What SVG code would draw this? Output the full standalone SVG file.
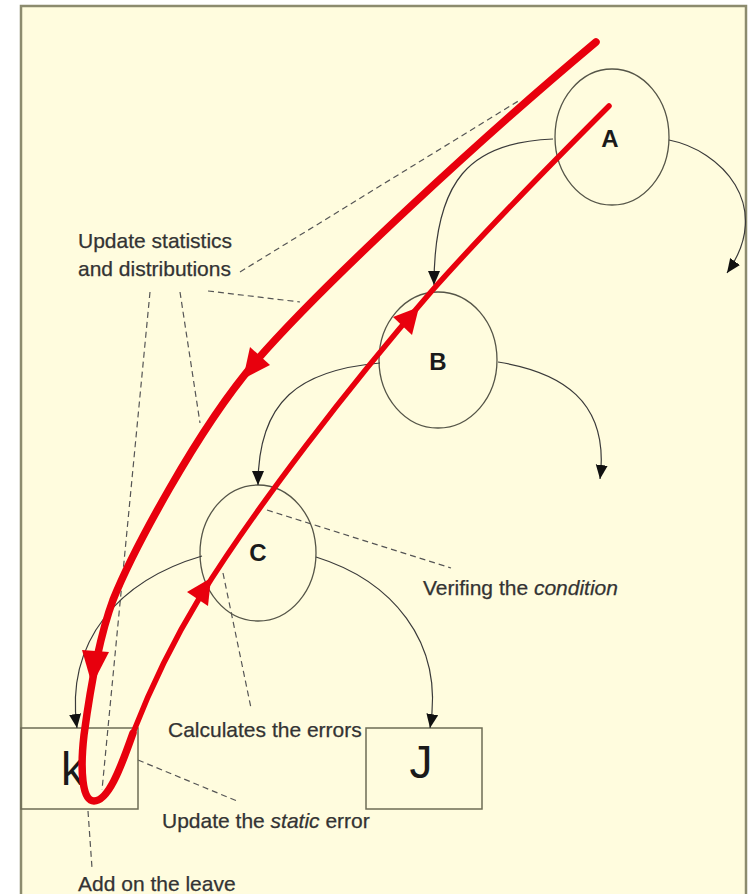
<svg xmlns="http://www.w3.org/2000/svg" width="752" height="894" viewBox="0 0 752 894">
  <defs>
    <style>
      .frame { fill: #FFFCDE; stroke: #8C8B6E; stroke-width: 2.5; }
      .node { fill: none; stroke: #555548; stroke-width: 1.3; }
      .leaf { fill: none; stroke: #6E6C55; stroke-width: 1.5; }
      .node-label { font-family: "Liberation Sans", Arial, sans-serif; font-weight: bold; font-size: 24px; fill: #1a1a1a; text-anchor: middle; }
      .leaf-label { font-family: "Liberation Sans", Arial, sans-serif; font-size: 46px; fill: #1a1a1a; }
      .edge { fill: none; stroke: #3a3a3a; stroke-width: 1.2; marker-end: url(#ah); }
      .lead { fill: none; stroke: #555; stroke-width: 1.2; stroke-dasharray: 6 4; }
      .note { font-family: "Liberation Sans", Arial, sans-serif; font-size: 21px; fill: #333; stroke: #333; stroke-width: 0.25; }
      .path-thick { fill: none; stroke: #E8000D; stroke-width: 7.5; stroke-linecap: round; stroke-linejoin: round; }
      .path-thin { fill: none; stroke: #E8000D; stroke-width: 5.5; stroke-linecap: round; stroke-linejoin: round; }
      .red-head { fill: #E8000D; }
    </style>
    <marker id="ah" markerUnits="userSpaceOnUse" markerWidth="15" markerHeight="13" refX="14" refY="6" orient="auto">
      <path d="M0,0 L14,6 L0,12 z" fill="#111"/>
    </marker>
  </defs>

  <!-- page -->
  <rect x="0" y="0" width="752" height="894" fill="#ffffff"/>
  <rect class="frame" x="21" y="6" width="725" height="900"/>

  <!-- dashed leader lines from the notes -->
  <g id="leaders">
    <path class="lead" d="M240,272 L520,100"/>
    <path class="lead" d="M208,291 L300,302"/>
    <path class="lead" d="M150,292 L102,790"/>
    <path class="lead" d="M180,292 L200,423"/>
    <path class="lead" d="M267,510 L451,568"/>
    <path class="lead" d="M223,573 L251,708"/>
    <path class="lead" d="M138,760 L237,801"/>
    <path class="lead" d="M88,811 L92,868"/>
  </g>

  <!-- tree nodes -->
  <g id="node-A">
    <ellipse class="node" cx="612" cy="137" rx="57" ry="68"/>
    <text class="node-label" x="610" y="147">A</text>
  </g>
  <g id="node-B">
    <ellipse class="node" cx="438" cy="360" rx="59" ry="68"/>
    <text class="node-label" x="438" y="370">B</text>
  </g>
  <g id="node-C">
    <ellipse class="node" cx="258" cy="553" rx="58" ry="68"/>
    <text class="node-label" x="258" y="561">C</text>
  </g>
  <g id="leaf-K">
    <rect class="leaf" x="21" y="728" width="117" height="81"/>
    <text class="leaf-label" x="61" y="785">k</text>
  </g>
  <g id="leaf-J">
    <rect class="leaf" x="366" y="728" width="116" height="81"/>
    <text class="leaf-label" x="421" y="778" text-anchor="middle">J</text>
  </g>

  <!-- tree edges -->
  <g id="edges">
    <path class="edge" d="M553,139 C470,142 434,180 434,285"/>
    <path class="edge" d="M669,140 C720,150 775,205 727,273"/>
    <path class="edge" d="M380,363 C300,370 258,400 258,485"/>
    <path class="edge" d="M498,362 C560,372 610,400 600,479"/>
    <path class="edge" d="M202,556 C120,580 65,640 77,728"/>
    <path class="edge" d="M316,557 C390,580 445,640 430,728"/>
  </g>

  <!-- traversal: descent to the leaf and ascent back to the root -->
  <g id="traversal">
    <path class="path-thick" d="M596,42 C486,134 327,280 257,360 C197,429 131,555 113,600 C100,635 90,690 84,735 C80,770 82,801 94,801 C108,801 120,770 133,733"/>
    <path class="path-thin" d="M133,733 C152,684 175,638 200,597 C255,508 350,385 430,293 C490,225 560,155 609,106"/>
    <polygon class="red-head" points="243,379 270,365 250,347"/>
    <polygon class="red-head" points="92,685 82,650 109,652"/>
    <polygon class="red-head" points="211,578 208,606 187,592"/>
    <polygon class="red-head" points="419,307 412,335 393,317"/>
  </g>

  <!-- notes -->
  <g id="notes">
    <text class="note" x="78" y="248">Update statistics</text>
    <text class="note" x="78" y="276">and distributions</text>
    <text class="note" x="423" y="595">Verifing the <tspan font-style="italic">condition</tspan></text>
    <text class="note" x="168" y="737">Calculates the errors</text>
    <text class="note" x="162" y="828">Update the <tspan font-style="italic">static</tspan> error</text>
    <text class="note" x="78" y="891">Add on the leave</text>
  </g>
</svg>
